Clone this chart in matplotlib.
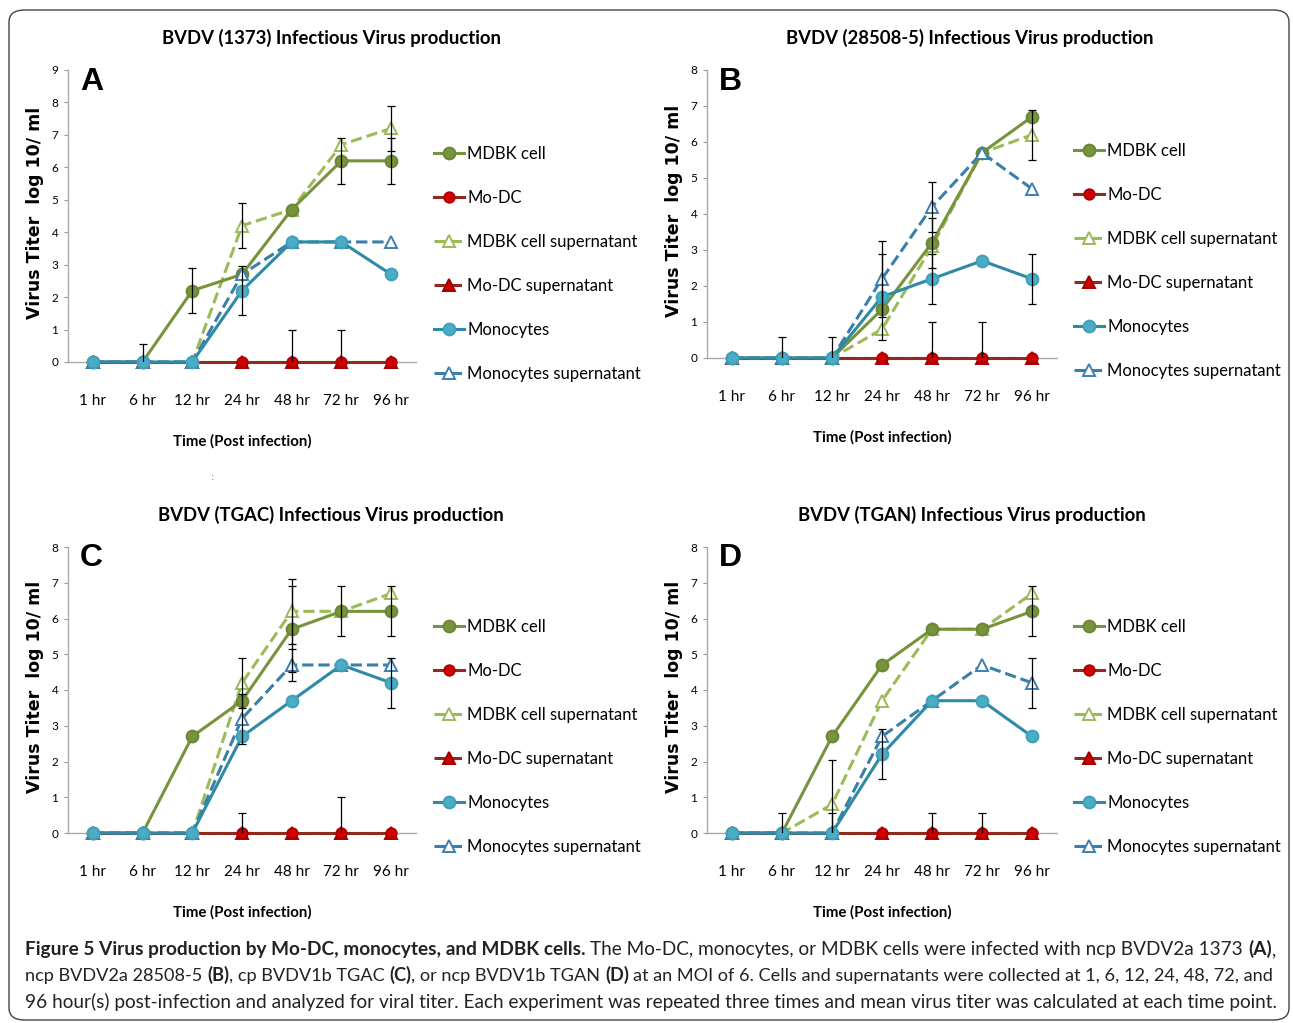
import matplotlib
matplotlib.use('Agg')
import matplotlib.pyplot as plt
from matplotlib.patches import FancyBboxPatch

NARROW = ['Lato', 'DejaVu Sans']
ARIAL = ['Liberation Sans', 'DejaVu Sans']
WIDE = ['DejaVu Sans']

times = ['1 hr', '6 hr', '12 hr', '24 hr', '48 hr', '72 hr', '96 hr']
labels = ['MDBK cell', 'Mo-DC', 'MDBK cell supernatant', 'Mo-DC supernatant',
          'Monocytes', 'Monocytes supernatant']

# panel A  BVDV (1373)
a_mdbk = [0, 0, 2.2, 2.7, 4.7, 6.2, 6.2]
a_modc = [0, 0, 0, 0, 0, 0, 0]
a_mdbk_sup = [0, 0, 0, 4.2, 4.7, 6.7, 7.2]
a_modc_sup = [0, 0, 0, 0, 0, 0, 0]
a_mono = [0, 0, 0, 2.2, 3.7, 3.7, 2.7]
a_mono_sup = [0, 0, 0, 2.7, 3.7, 3.7, 3.7]
a_mdbk_err = [0, 0, 0.7, 0, 0, 0.7, 0.7]
a_modc_err = [0, 0.55, 0, 0, 1.0, 1.0, 0]
a_mdbk_sup_err = [0, 0, 0, 0.7, 0, 0, 0.7]
a_mono_err = [0, 0, 0, 0.75, 0, 0, 0]

# panel B  BVDV (28508-5)
b_mdbk = [0, 0, 0, 1.35, 3.2, 5.7, 6.7]
b_modc = [0, 0, 0, 0, 0, 0, 0]
b_mdbk_sup = [0, 0, 0, 0.8, 3.1, 5.7, 6.2]
b_modc_sup = [0, 0, 0, 0, 0, 0, 0]
b_mono = [0, 0, 0, 1.7, 2.2, 2.7, 2.2]
b_mono_sup = [0, 0, 0, 2.2, 4.2, 5.7, 4.7]
b_mdbk_err = [0, 0, 0, 0, 0.7, 0, 0]
b_modc_err = [0, 0.57, 0.57, 0, 1.0, 1.0, 0]
b_mdbk_sup_err = [0, 0, 0, 0, 0, 0, 0.7]
b_mono_err = [0, 0, 0, 1.2, 0.7, 0, 0.7]
b_mono_sup_err = [0, 0, 0, 1.05, 0.7, 0, 0]

# panel C  BVDV (TGAC)
c_mdbk = [0, 0, 2.7, 3.7, 5.7, 6.2, 6.2]
c_modc = [0, 0, 0, 0, 0, 0, 0]
c_mdbk_sup = [0, 0, 0, 4.2, 6.2, 6.2, 6.7]
c_modc_sup = [0, 0, 0, 0, 0, 0, 0]
c_mono = [0, 0, 0, 2.7, 3.7, 4.7, 4.2]
c_mono_sup = [0, 0, 0, 3.2, 4.7, 4.7, 4.7]
c_mdbk_err = [0, 0, 0, 0, 1.2, 0.7, 0.7]
c_modc_err = [0, 0, 0, 0.57, 0, 1.0, 0]
c_mdbk_sup_err = [0, 0, 0, 0.7, 0.9, 0, 0]
c_mono_err = [0, 0, 0, 0, 0, 0, 0.7]
c_mono_sup_err = [0, 0, 0, 0.7, 0.45, 0, 0]

# panel D  BVDV (TGAN)
d_mdbk = [0, 0, 2.7, 4.7, 5.7, 5.7, 6.2]
d_modc = [0, 0, 0, 0, 0, 0, 0]
d_mdbk_sup = [0, 0, 0.8, 3.7, 5.7, 5.7, 6.7]
d_modc_sup = [0, 0, 0, 0, 0, 0, 0]
d_mono = [0, 0, 0, 2.2, 3.7, 3.7, 2.7]
d_mono_sup = [0, 0, 0, 2.7, 3.7, 4.7, 4.2]
d_mdbk_err = [0, 0, 0, 0, 0, 0, 0.7]
d_modc_err = [0, 0.57, 0.57, 0, 0.57, 0.57, 0]
d_mdbk_sup_err = [0, 0, 1.25, 0, 0, 0, 0]
d_mono_err = [0, 0, 0, 0.7, 0, 0, 0]
d_mono_sup_err = [0, 0, 0, 0, 0, 0, 0.7]

no_err = [0, 0, 0, 0, 0, 0, 0]

# style per series: line colour, marker, size, face, edge, linestyle, zorder
styles = {
    'MDBK cell': ('#77933C', 'o', 8.5, '#77933C', '#6B8636', '-', 4),
    'Mo-DC': ('#8E2A1E', 'o', 7.5, '#D00000', '#B00000', '-', 5.5),
    'MDBK cell supernatant': ('#9BBB59', '^', 8.5, 'white', '#9BBB59', '--', 3),
    'Mo-DC supernatant': ('#8E2A1E', '^', 8.5, '#D00000', '#A00000', '--', 5),
    'Monocytes': ('#2E8AA6', 'o', 8.5, '#4BACC6', '#3FA0BA', '-', 7),
    'Monocytes supernatant': ('#3A7FA8', '^', 8.5, 'white', '#3F7FB0', '--', 6),
}

W, H = 1293, 1023
fig = plt.figure(figsize=(W / 100, H / 100), dpi=100)


def px_box(x0, x1, ytop, ybot):
    return [x0 / W, 1 - ybot / H, (x1 - x0) / W, (ybot - ytop) / H]


def draw_panel(box, ymax, series, errs, letter, title, title_x, title_y, leg_x):
    ax = fig.add_axes(box)
    x = list(range(len(times)))
    handles = []
    for name in labels:
        lc, mk, ms, fc, ec, ls, z = styles[name]
        y = series[name]
        h, = ax.plot(x, y, color=lc, lw=2.2, ls=ls, marker=mk, ms=ms,
                     mfc=fc, mec=ec, mew=1.4, zorder=z, clip_on=False,
                     label=name)
        handles.append(h)
        e = errs.get(name, no_err)
        idx = [i for i in x if e[i] > 0]
        if idx:
            ax.errorbar([x[i] for i in idx], [y[i] for i in idx],
                        yerr=[e[i] for i in idx], fmt='none', ecolor='black',
                        elinewidth=0.9, capsize=3, capthick=0.9, zorder=8)
    ax.set_xlim(-0.5, len(times) - 0.5)
    ax.set_ylim(0, ymax)
    ax.set_yticks(range(ymax + 1))
    ax.set_xticks(x)
    ax.set_xticklabels(times, family=NARROW, fontsize=11)
    for t in ax.get_yticklabels():
        t.set_family(NARROW)
        t.set_fontsize(8.5)
    ax.tick_params(axis='x', length=0, pad=23)
    ax.tick_params(axis='y', length=3, color='#999999', pad=4)
    for s in ['top', 'right']:
        ax.spines[s].set_visible(False)
    for s in ['left', 'bottom']:
        ax.spines[s].set_color('#AAAAAA')
        ax.spines[s].set_linewidth(1)
    ax.text(0.035, 0.96, letter, transform=ax.transAxes, fontsize=23,
            fontweight='bold', family=ARIAL, va='center', ha='left')
    ax.annotate('Time (Post infection)', xy=(0.5, 0), xycoords='axes fraction',
                xytext=(0, -57), textcoords='offset points', ha='center',
                va='center', fontsize=10.8, fontweight='bold', family=NARROW)
    bb = ax.get_position()
    fig.text(bb.x0 - 33 / W, bb.y0 + bb.height * 0.51, 'Virus Titer  log 10/ ml',
             rotation=90, ha='center', va='center', fontsize=12.5,
             fontweight='bold', family=WIDE)
    fig.text(title_x / W, 1 - title_y / H, title, ha='center', va='center',
             fontsize=13.3, fontweight='bold', family=NARROW)
    fig.legend(handles=handles, loc='center left',
               bbox_to_anchor=(leg_x / W, bb.y0 + bb.height * 0.337),
               frameon=False, numpoints=1, handlelength=1.8,
               handletextpad=0.2, labelspacing=1.68, borderpad=0,
               borderaxespad=0, prop={'family': NARROW, 'size': 12})
    return ax


draw_panel(px_box(68, 416, 70, 362), 9,
           {'MDBK cell': a_mdbk, 'Mo-DC': a_modc, 'MDBK cell supernatant': a_mdbk_sup,
            'Mo-DC supernatant': a_modc_sup, 'Monocytes': a_mono,
            'Monocytes supernatant': a_mono_sup},
           {'MDBK cell': a_mdbk_err, 'Mo-DC': a_modc_err,
            'MDBK cell supernatant': a_mdbk_sup_err, 'Monocytes': a_mono_err},
           'A', 'BVDV (1373) Infectious Virus production', 331, 38, 434)

draw_panel(px_box(707, 1057, 70, 358), 8,
           {'MDBK cell': b_mdbk, 'Mo-DC': b_modc, 'MDBK cell supernatant': b_mdbk_sup,
            'Mo-DC supernatant': b_modc_sup, 'Monocytes': b_mono,
            'Monocytes supernatant': b_mono_sup},
           {'MDBK cell': b_mdbk_err, 'Mo-DC': b_modc_err,
            'MDBK cell supernatant': b_mdbk_sup_err, 'Monocytes': b_mono_err,
            'Monocytes supernatant': b_mono_sup_err},
           'B', 'BVDV (28508-5) Infectious Virus production', 970, 38, 1074)

draw_panel(px_box(68, 416, 547, 833), 8,
           {'MDBK cell': c_mdbk, 'Mo-DC': c_modc, 'MDBK cell supernatant': c_mdbk_sup,
            'Mo-DC supernatant': c_modc_sup, 'Monocytes': c_mono,
            'Monocytes supernatant': c_mono_sup},
           {'MDBK cell': c_mdbk_err, 'Mo-DC': c_modc_err,
            'MDBK cell supernatant': c_mdbk_sup_err, 'Monocytes': c_mono_err,
            'Monocytes supernatant': c_mono_sup_err},
           'C', 'BVDV (TGAC) Infectious Virus production', 331, 515, 434)

draw_panel(px_box(707, 1057, 547, 833), 8,
           {'MDBK cell': d_mdbk, 'Mo-DC': d_modc, 'MDBK cell supernatant': d_mdbk_sup,
            'Mo-DC supernatant': d_modc_sup, 'Monocytes': d_mono,
            'Monocytes supernatant': d_mono_sup},
           {'MDBK cell': d_mdbk_err, 'Mo-DC': d_modc_err,
            'MDBK cell supernatant': d_mdbk_sup_err, 'Monocytes': d_mono_err,
            'Monocytes supernatant': d_mono_sup_err},
           'D', 'BVDV (TGAN) Infectious Virus production', 972, 515, 1074)

# stray scan mark between the rows
fig.text(213 / W, 1 - 477 / H, ':', fontsize=7, color='#666666', ha='center', va='center')

# rounded frame around the whole figure
frame = FancyBboxPatch((9 / W, 3 / H), 1280 / W, 1010 / H,
                       boxstyle='round,pad=0,rounding_size=0.012',
                       transform=fig.transFigure, fill=False,
                       edgecolor='#444444', lw=1.0)
fig.patches.append(frame)

# caption, drawn run by run so bold and regular parts can sit on one line
caption = [
    [('Figure 5 Virus production by Mo-DC, monocytes, and MDBK cells.', True),
     (' The Mo-DC, monocytes, or MDBK cells were infected with ncp BVDV2a 1373 ', False),
     ('(A)', True), (',', False)],
    [('ncp BVDV2a 28508-5 ', False), ('(B)', True), (', cp BVDV1b TGAC ', False),
     ('(C)', True), (', or ncp BVDV1b TGAN ', False), ('(D)', True),
     (' at an MOI of 6. Cells and supernatants were collected at 1, 6, 12, 24, 48, 72, and', False)],
    [('96 hour(s) post-infection and analyzed for viral titer. Each experiment was repeated '
      'three times and mean virus titer was calculated at each time point.', False)],
]
cap_y = [955, 981, 1008]
cap_right = [1268, 1265, 1275]
cap_x0 = 25.0
renderer = fig.canvas.get_renderer()


def run_width(s, bold, size):
    t = fig.text(0, 0, s, fontsize=size, family=NARROW,
                 fontweight='bold' if bold else 'normal')
    w = t.get_window_extent(renderer).width
    t.remove()
    return w


def line_layout(line, size):
    pieces = []
    xx = cap_x0
    for s, bold in line:
        sp_w = run_width('a a', bold, size) - run_width('aa', bold, size)
        lead = len(s) - len(s.lstrip(' '))
        trail = len(s) - len(s.rstrip(' '))
        core = s.strip(' ')
        xx += lead * sp_w
        pieces.append((xx, core, bold))
        xx += run_width(core, bold, size) + trail * sp_w
    return pieces, xx


for line, yy, right in zip(caption, cap_y, cap_right):
    base = 12.0
    _, end = line_layout(line, base)
    size = base * (right - cap_x0) / (end - cap_x0)
    pieces, _ = line_layout(line, size)
    for xx, core, bold in pieces:
        fig.text(xx / W, 1 - yy / H, core, fontsize=size, family=NARROW,
                 fontweight='bold' if bold else 'normal', color='#222222',
                 va='baseline', ha='left')

fig.savefig('out.png', dpi=100)
